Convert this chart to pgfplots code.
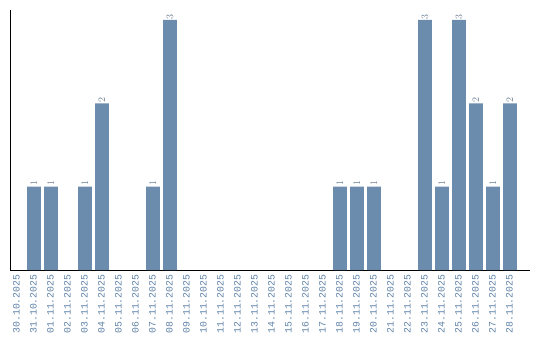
\documentclass[border=0pt]{standalone}
\usepackage{pgfplots}
\pgfplotsset{compat=1.18}
\usepackage{fontspec}
\setmainfont{Liberation Sans}
\newfontfamily\monof{Liberation Mono}
\definecolor{barc}{HTML}{6B8CAD}
\definecolor{lblc}{HTML}{5F82A8}
\definecolor{valc}{HTML}{6F8294}
\begin{document}
\begin{tikzpicture}
\begin{axis}[
  name=ax,
  scale only axis,
  width=520pt, height=260pt,
  xmin=-0.41, xmax=30.18,
  ymin=0, ymax=3.12,
  axis x line*=bottom,
  axis y line*=left,
  axis line style={black, line width=1pt},
  ytick=\empty,
  xtick={0,...,29},
  major tick length=0pt,
  xticklabels={30.10.2025,31.10.2025,01.11.2025,02.11.2025,03.11.2025,04.11.2025,05.11.2025,06.11.2025,07.11.2025,08.11.2025,09.11.2025,10.11.2025,11.11.2025,12.11.2025,13.11.2025,14.11.2025,15.11.2025,16.11.2025,17.11.2025,18.11.2025,19.11.2025,20.11.2025,21.11.2025,22.11.2025,23.11.2025,24.11.2025,25.11.2025,26.11.2025,27.11.2025,28.11.2025},
  xticklabel style={rotate=90, anchor=east, font=\monof\fontsize{9.8}{10}\selectfont, text=lblc, inner sep=0pt, xshift=-4.5pt, yshift=0.5pt},
  ybar, bar width=13.7pt,
  bar shift=0pt,
  nodes near coords,
  every node near coord/.append style={rotate=90, anchor=west, font=\monof\fontsize{9.8}{10}\selectfont, text=valc, inner sep=1.5pt, xshift=-1pt},
  clip=false,
]
\addplot[fill=barc, draw=none] coordinates {
(1,1) (2,1) (4,1) (5,2) (8,1) (9,3)
(19,1) (20,1) (21,1) (24,3) (25,1) (26,3) (27,2) (28,1) (29,2)
};
\end{axis}
\pgfresetboundingbox
\path ([xshift=-10pt,yshift=-70pt]ax.south west) rectangle ([xshift=10pt,yshift=10pt]ax.north east);
\end{tikzpicture}
\end{document}
